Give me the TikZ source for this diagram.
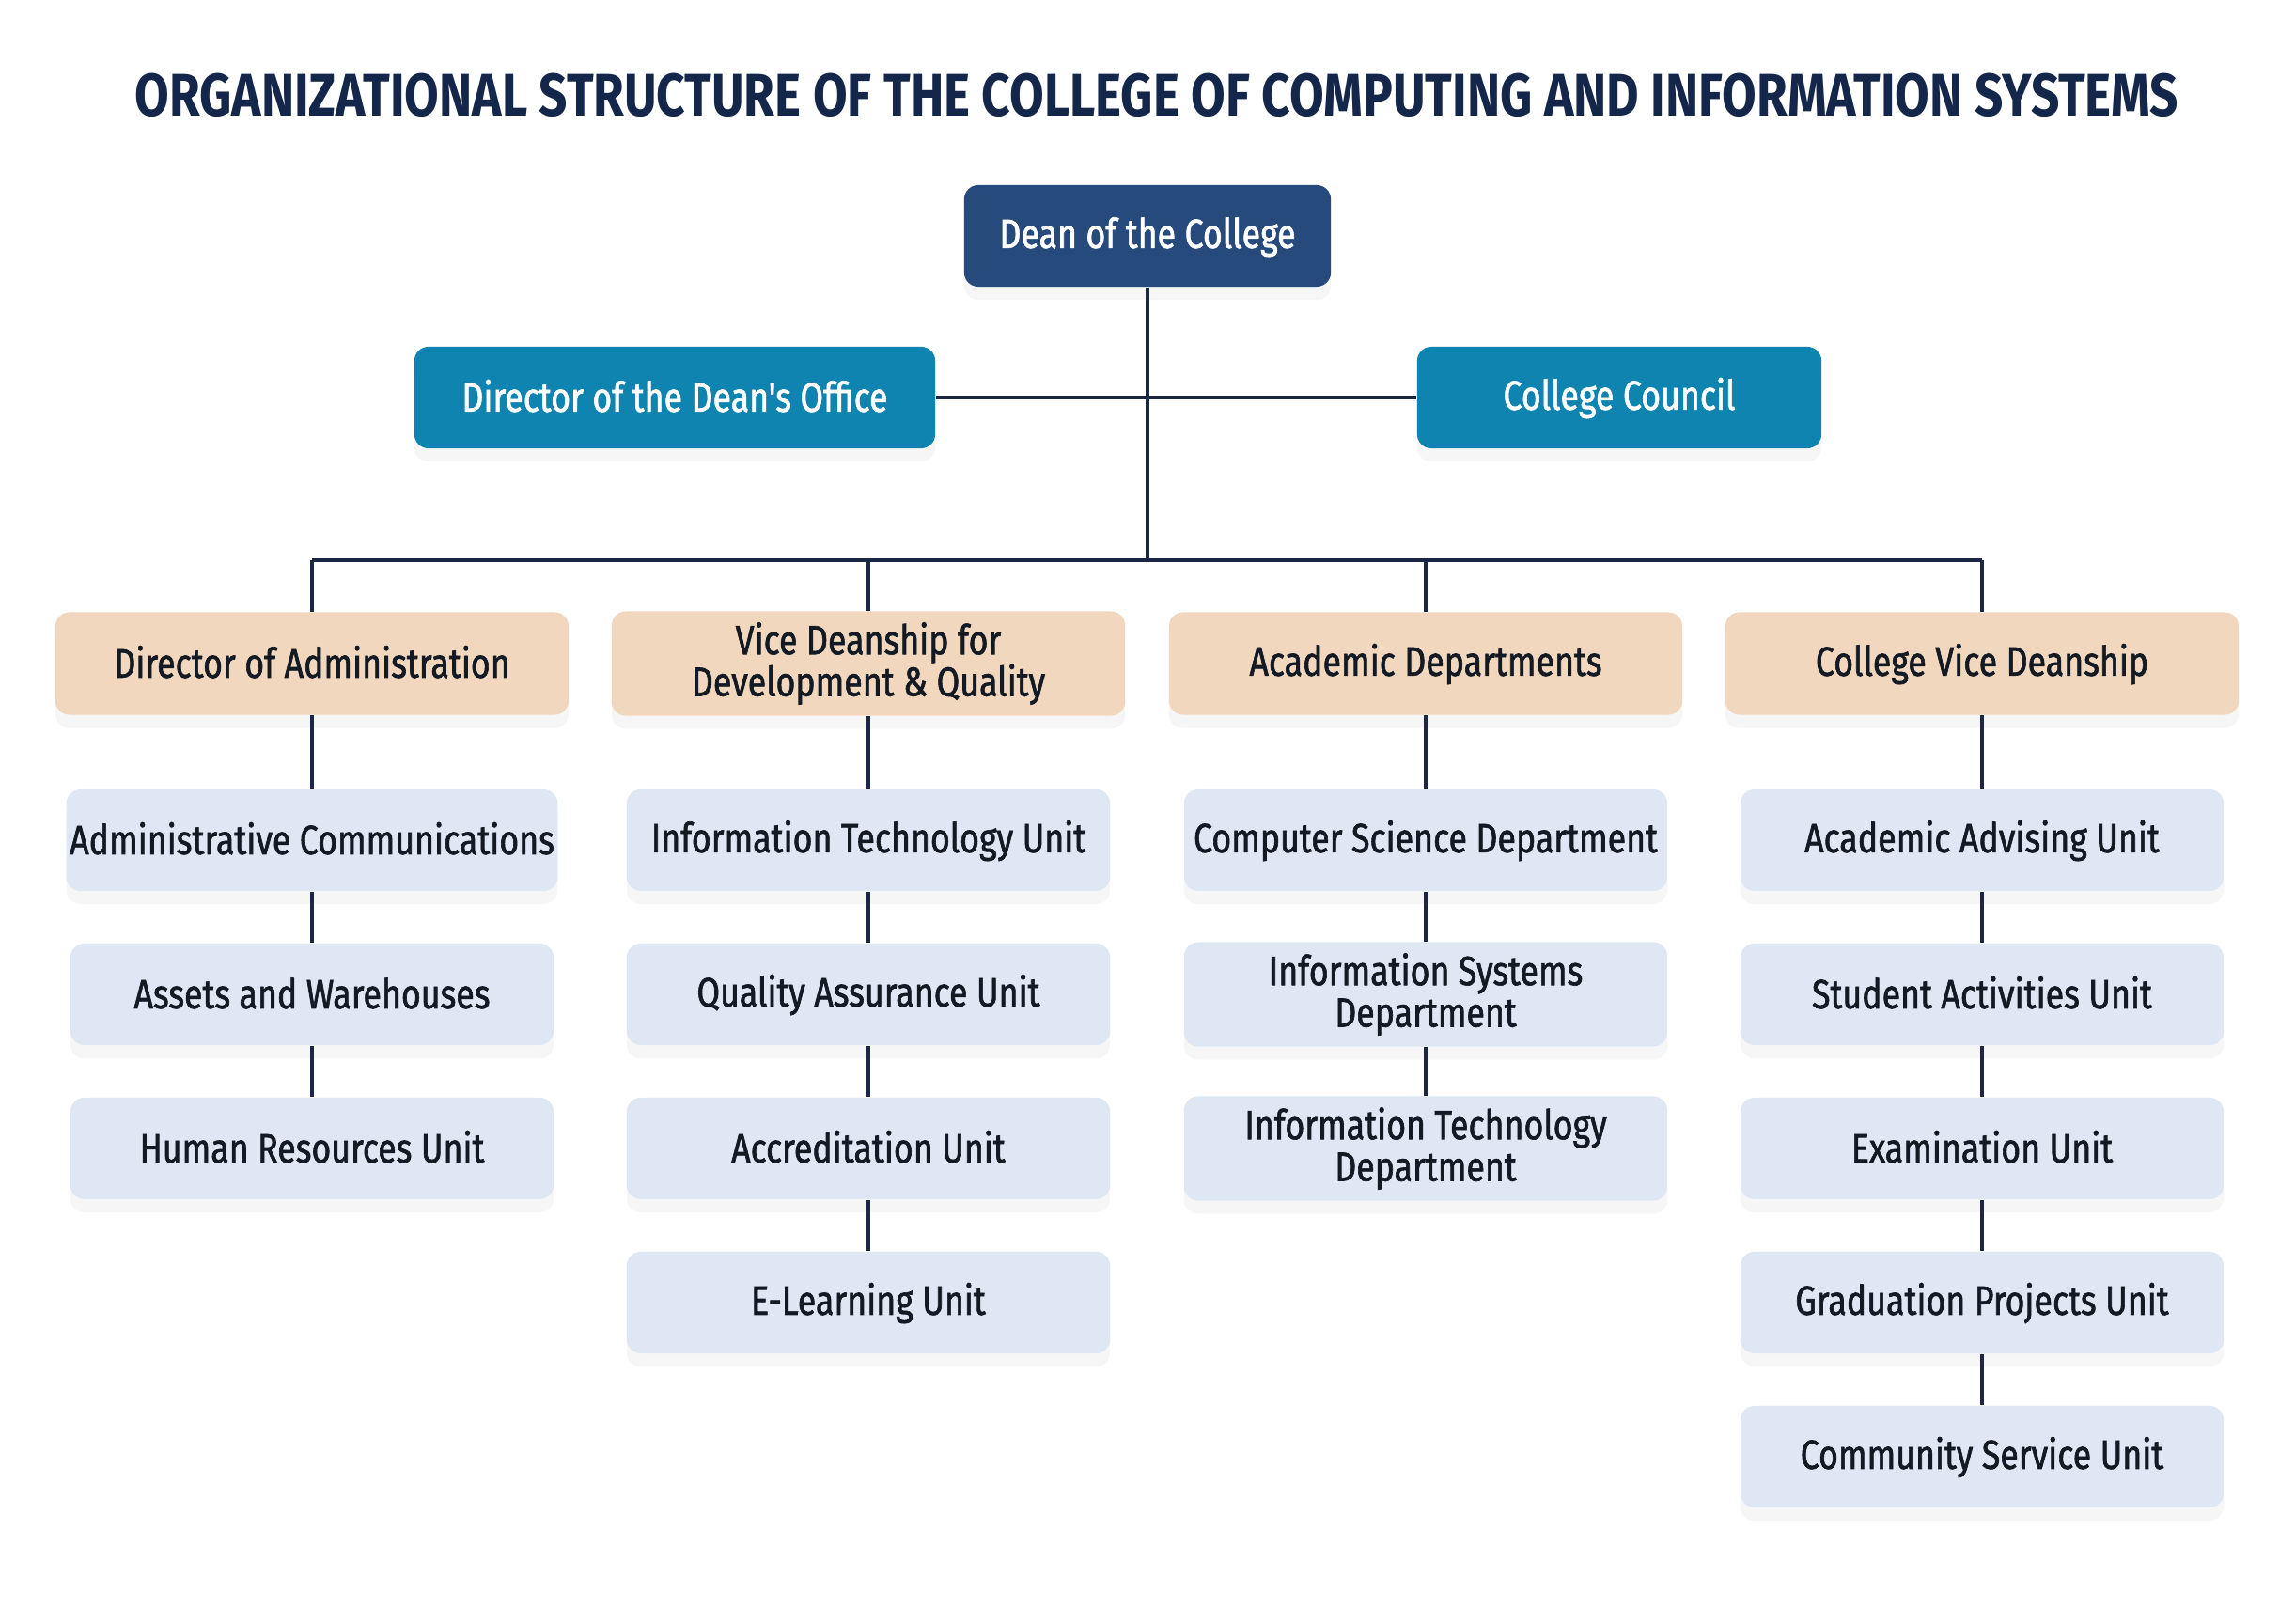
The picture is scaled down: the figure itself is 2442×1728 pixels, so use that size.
\documentclass[tikz,border=0pt]{standalone}
\usepackage{fontspec}
\setmainfont{Fira Sans}[FakeStretch=0.83]
\newfontfamily\boxfont{Fira Sans}[FakeStretch=0.82, FakeBold=1.4]
\usetikzlibrary{positioning,shadows}

\definecolor{deanblue}{HTML}{264A7B}
\definecolor{teal}{HTML}{0F84B0}
\definecolor{peach}{HTML}{F0D7BD}
\definecolor{paleblue}{HTML}{DEE7F3}
\definecolor{linkcol}{HTML}{1B2845}
\definecolor{titlecol}{HTML}{14264A}
\definecolor{inkcol}{HTML}{141A24}
\newcommand\boxstrut{\rule[-1.5pt]{0pt}{11.5pt}}

\begin{document}
\begin{tikzpicture}[x=0.01cm,y=-0.01cm,
    box/.style={rounded corners=0.15cm, align=center, inner xsep=1pt,
        font=\boxfont\fontsize{12.4}{12.6}\selectfont,
        execute at begin node=\boxstrut, execute at end node=\boxstrut,
        drop shadow={opacity=0.07, shadow xshift=0pt, shadow yshift=-4pt}},
    top/.style={box, fill=deanblue, text=white, minimum width=3.9cm, minimum height=1.08cm},
    office/.style={box, fill=teal, text=white, minimum height=1.08cm},
    head/.style={box, fill=peach, text=inkcol, minimum width=5.46cm, minimum height=1.09cm},
    unit/.style={box, fill=paleblue, text=inkcol, minimum width=5.14cm, minimum height=1.08cm},
    link/.style={linkcol, line width=1pt}]
    \fill[white] (0,0) rectangle (2442,1728);
    \useasboundingbox (0,0) rectangle (2442,1728);

    % Titre
    \node[text=titlecol, font=\fontsize{18.2}{20}\selectfont\bfseries] (title) at (1231,101)
        {ORGANIZATIONAL STRUCTURE OF THE COLLEGE OF COMPUTING AND INFORMATION SYSTEMS};

    % Direction
    \node[top] (dean) at (1221,251) {Dean of the College};
    \node[office, minimum width=5.54cm] (office) at (718,423) {Director of the Dean's Office};
    \node[office, minimum width=4.30cm] (council) at (1723,423) {College Council};
    \coordinate (bus) at (1221,596);
    \draw[link] (office) -- (council);
    \draw[link] (dean) -- (bus);

    % Niveau 2
    \node[head] (admin) at (332,706) {Director of Administration};
    \node[head] (vice) at (924,706) {Vice Deanship for\\Development \& Quality};
    \node[head] (acad) at (1517,706) {Academic Departments};
    \node[head] (cvd) at (2109,706) {College Vice Deanship};
    \draw[link] (admin.north |- bus) -- (cvd.north |- bus);
    \foreach \n in {admin,vice,acad,cvd} {
        \draw[link] (\n.north |- bus) -- (\n.north);
    }

    % Unites
    \foreach \t [count=\i] in {Administrative Communications, Assets and Warehouses,
        Human Resources Unit} {
        \node[unit] (adm\i) at (332,730+164*\i) {\t};
    }
    \foreach \t [count=\i] in {Information Technology Unit, Quality Assurance Unit,
        Accreditation Unit, E-Learning Unit} {
        \node[unit] (dev\i) at (924,730+164*\i) {\t};
    }
    \foreach \t [count=\i] in {Computer Science Department, {Information Systems\\Department},
        {Information Technology\\Department}} {
        \node[unit] (dep\i) at (1517,730+164*\i) {\t};
    }
    \foreach \t [count=\i] in {Academic Advising Unit, Student Activities Unit,
        Examination Unit, Graduation Projects Unit, Community Service Unit} {
        \node[unit] (vdu\i) at (2109,730+164*\i) {\t};
    }

    % Liaisons
    \draw[link] (admin) -- (adm1);
    \draw[link] (vice) -- (dev1);
    \draw[link] (acad) -- (dep1);
    \draw[link] (cvd) -- (vdu1);
    \foreach \i/\j in {1/2,2/3} {
        \draw[link] (adm\i) -- (adm\j);
        \draw[link] (dep\i) -- (dep\j);
    }
    \foreach \i/\j in {1/2,2/3,3/4} {
        \draw[link] (dev\i) -- (dev\j);
    }
    \foreach \i/\j in {1/2,2/3,3/4,4/5} {
        \draw[link] (vdu\i) -- (vdu\j);
    }
\end{tikzpicture}
\end{document}
